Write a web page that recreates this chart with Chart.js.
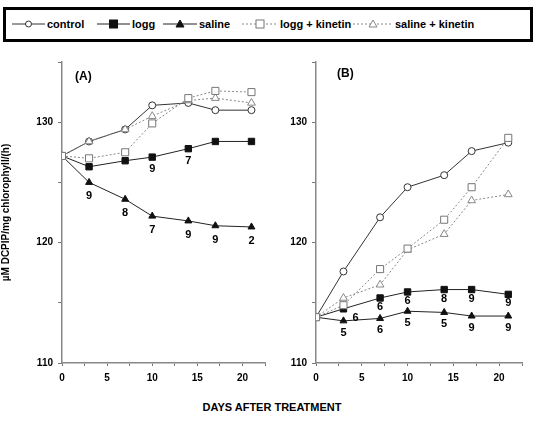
<!DOCTYPE html>
<html>
<head>
<meta charset="utf-8">
<script src="https://cdn.jsdelivr.net/npm/chart.js@4.4.0/dist/chart.umd.min.js"></script>
<style>
body { margin: 0; background: #fff; font-family: "Liberation Sans", Arial, sans-serif; }
#wrap { position: relative; width: 544px; height: 431px; }
#legend { position: absolute; left: 3px; top: 7px; width: 524px; height: 29px; border: 3px solid #000;
  font-size: 11px; font-weight: bold; box-sizing: content-box; }
.item { position: absolute; top: 8px; display: flex; align-items: center; white-space: nowrap; }
.item svg { margin-right: 2px; }
#cA { position: absolute; left: 0; top: 48px; }
#cB { position: absolute; left: 275px; top: 48px; }
#xt { position: absolute; top: 401px; left: 0; width: 544px; text-align: center; font-size: 11px; font-weight: bold; }
</style>
</head>
<body>
<div id="wrap">
  <div id="legend"></div>
  <canvas id="cA" width="272" height="340"></canvas>
  <canvas id="cB" width="269" height="340"></canvas>
  <div id="xt">DAYS AFTER TREATMENT</div>
</div>
<script>
// sampling days
const days = [0, 3, 7, 10, 14, 17, 21];
const seriesNames = ['control', 'logg', 'saline', 'logg + kinetin', 'saline + kinetin'];

// panel A
const A_control    = [127.2, 128.4, 129.4, 131.4, 131.6, 131.0, 131.0];
const A_logg       = [127.2, 126.3, 126.8, 127.1, 127.8, 128.4, 128.4];
const A_saline     = [127.2, 125.0, 123.6, 122.2, 121.8, 121.4, 121.3];
const A_loggKin    = [127.2, 127.0, 127.5, 129.9, 132.0, 132.6, 132.5];
const A_salineKin  = [127.2, 128.4, 129.4, 130.5, 131.8, 132.0, 131.6];
const A_loggNotes   = ['', '', '', '9', '7', '', ''];
const A_salineNotes = ['', '9', '8', '7', '9', '9', '2'];

// panel B
const B_control    = [113.8, 117.6, 122.1, 124.6, 125.6, 127.6, 128.3];
const B_logg       = [113.8, 114.5, 115.4, 115.9, 116.1, 116.1, 115.7];
const B_saline     = [113.8, 113.5, 113.7, 114.3, 114.2, 113.9, 113.9];
const B_loggKin    = [113.8, 114.8, 117.8, 119.5, 121.9, 124.6, 128.7];
const B_salineKin  = [113.8, 115.4, 116.5, 119.4, 120.7, 123.5, 124.0];
const B_loggNotes   = ['', '6', '6', '6', '8', '9', '9'];
const B_salineNotes = ['', '5', '6', '5', '5', '9', '9'];

const yTicks = [110, 120, 130];
const FONT = '"Liberation Sans", Arial, sans-serif';

// styles for the five series
const styles = [
  { borderColor: '#333', borderDash: [], pointStyle: 'circle', pointRadius: 3.5, pointBackgroundColor: '#fff', pointBorderColor: '#333' },
  { borderColor: '#222', borderDash: [], pointStyle: 'rect', pointRadius: 4.5, pointBackgroundColor: '#111', pointBorderColor: '#111' },
  { borderColor: '#222', borderDash: [], pointStyle: 'triangle', pointRadius: 4, pointBackgroundColor: '#111', pointBorderColor: '#111' },
  { borderColor: '#888', borderDash: [2, 2], pointStyle: 'rect', pointRadius: 5, pointBackgroundColor: '#fff', pointBorderColor: '#777' },
  { borderColor: '#888', borderDash: [2, 2], pointStyle: 'triangle', pointRadius: 4.5, pointBackgroundColor: '#fff', pointBorderColor: '#888' }
];

// legend (html), item start x inside the box and icon widths
const legendX = [6, 91, 157, 236, 347];
const legendW = [33, 33, 34, 36, 40];
function legendIcon(s, w) {
  const dash = s.borderDash.length ? 'stroke-dasharray="2,2"' : '';
  const c = w / 2;
  const fill = s.pointBackgroundColor, st = s.pointBorderColor;
  let m = '';
  if (s.pointStyle === 'circle') m = `<circle cx="${c}" cy="6" r="3" fill="${fill}" stroke="${st}"/>`;
  if (s.pointStyle === 'rect') m = `<rect x="${c - 4}" y="2" width="8" height="8" fill="${fill}" stroke="${st}"/>`;
  if (s.pointStyle === 'triangle') m = `<polygon points="${c},2 ${c + 4},9 ${c - 4},9" fill="${fill}" stroke="${st}"/>`;
  return `<svg width="${w}" height="12"><line x1="0" y1="6" x2="${w}" y2="6" stroke="${s.borderColor}" ${dash}/>${m}</svg>`;
}
const legendEl = document.getElementById('legend');
seriesNames.forEach((n, i) => {
  legendEl.insertAdjacentHTML('beforeend',
    `<span class="item" style="left:${legendX[i]}px">${legendIcon(styles[i], legendW[i])}${n}</span>`);
});

// draws small number notes under points and panel label
const notesPlugin = {
  id: 'notes',
  afterDatasetsDraw(chart, args, opts) {
    const ctx = chart.ctx;
    ctx.save();
    ctx.fillStyle = '#000';
    ctx.textAlign = 'center';
    ctx.textBaseline = 'middle';
    ctx.font = 'bold 11px ' + FONT;
    chart.data.datasets.forEach((ds, i) => {
      if (!ds.notes) return;
      chart.getDatasetMeta(i).data.forEach((pt, j) => {
        const t = ds.notes[j];
        if (!t) return;
        const dx = ds.noteDx ? ds.noteDx[j] : 0;
        ctx.fillText(t, pt.x + dx, pt.y + ds.noteDy);
      });
    });
    const a = chart.chartArea;
    ctx.textAlign = 'left';
    ctx.font = 'bold 12px ' + FONT;
    ctx.fillText(opts.panel, a.left + opts.px, a.top + opts.py);
    ctx.restore();
  }
};

function makePanel(id, series, notes, cfg) {
  const datasets = series.map((vals, i) => {
    const ds = Object.assign({
      label: seriesNames[i],
      data: days.map((d, k) => ({ x: d, y: vals[k] })),
      borderWidth: 1,
      pointBorderWidth: 1,
      showLine: true,
      fill: false,
      tension: 0
    }, styles[i]);
    if (notes[i]) {
      ds.notes = notes[i];
      ds.noteDy = cfg.noteDy[i];
      if (cfg.noteDx && cfg.noteDx[i]) ds.noteDx = cfg.noteDx[i];
    }
    return ds;
  });
  // draw kinetin (dotted) series underneath
  const order = [3, 4, 0, 1, 2];
  return new Chart(document.getElementById(id), {
    type: 'scatter',
    data: { datasets: order.map(i => datasets[i]) },
    options: {
      responsive: false,
      animation: false,
      layout: { padding: { left: 0, right: cfg.padRight, top: 14, bottom: 0 } },
      plugins: {
        legend: { display: false },
        tooltip: { enabled: false },
        notes: { panel: cfg.panel, px: cfg.px, py: cfg.py }
      },
      scales: {
        x: {
          type: 'linear', min: 0, max: 22.5,
          afterFit: s => { s.height = 25; },
          ticks: {
            stepSize: 2.5, padding: 6, color: '#000',
            font: { family: FONT, size: 10, weight: 'bold' },
            maxRotation: 0,
            callback: v => (v % 5 === 0 ? v : '')
          },
          grid: { drawOnChartArea: false, tickLength: 3, color: '#777' },
          border: { color: '#888', width: 1.5 }
        },
        y: {
          type: 'linear', min: 110, max: 135,
          afterFit: s => { s.width = cfg.yWidth; },
          ticks: {
            stepSize: 5, padding: 5, color: '#000',
            font: { family: FONT, size: 10, weight: 'bold' },
            callback: v => (yTicks.includes(v) ? v : '')
          },
          grid: { drawOnChartArea: false, tickLength: 4, color: '#777' },
          border: { color: '#888', width: 1.5 },
          title: cfg.yTitle ? {
            display: true, text: 'µM DCPIP/mg chlorophyll/(h)', color: '#000',
            font: { family: FONT, size: 10, weight: 'bold' }, padding: { top: 0, bottom: 2 }
          } : { display: false }
        }
      }
    },
    plugins: [notesPlugin]
  });
}

makePanel('cA',
  [A_control, A_logg, A_saline, A_loggKin, A_salineKin],
  [null, A_loggNotes, A_salineNotes, null, null],
  { panel: '(A)', px: 13, py: 15, padRight: 7, yWidth: 62, yTitle: true,
    noteDy: [0, 12, 14, 0, 0] });

makePanel('cB',
  [B_control, B_logg, B_saline, B_loggKin, B_salineKin],
  [null, B_loggNotes, B_salineNotes, null, null],
  { panel: '(B)', px: 21, py: 12, padRight: 22, yWidth: 41, yTitle: false,
    noteDy: [0, 9, 12, 0, 0], noteDx: [null, [0, 12, 0, 0, 0, 0, 0], null, null, null] });
</script>
</body>
</html>
